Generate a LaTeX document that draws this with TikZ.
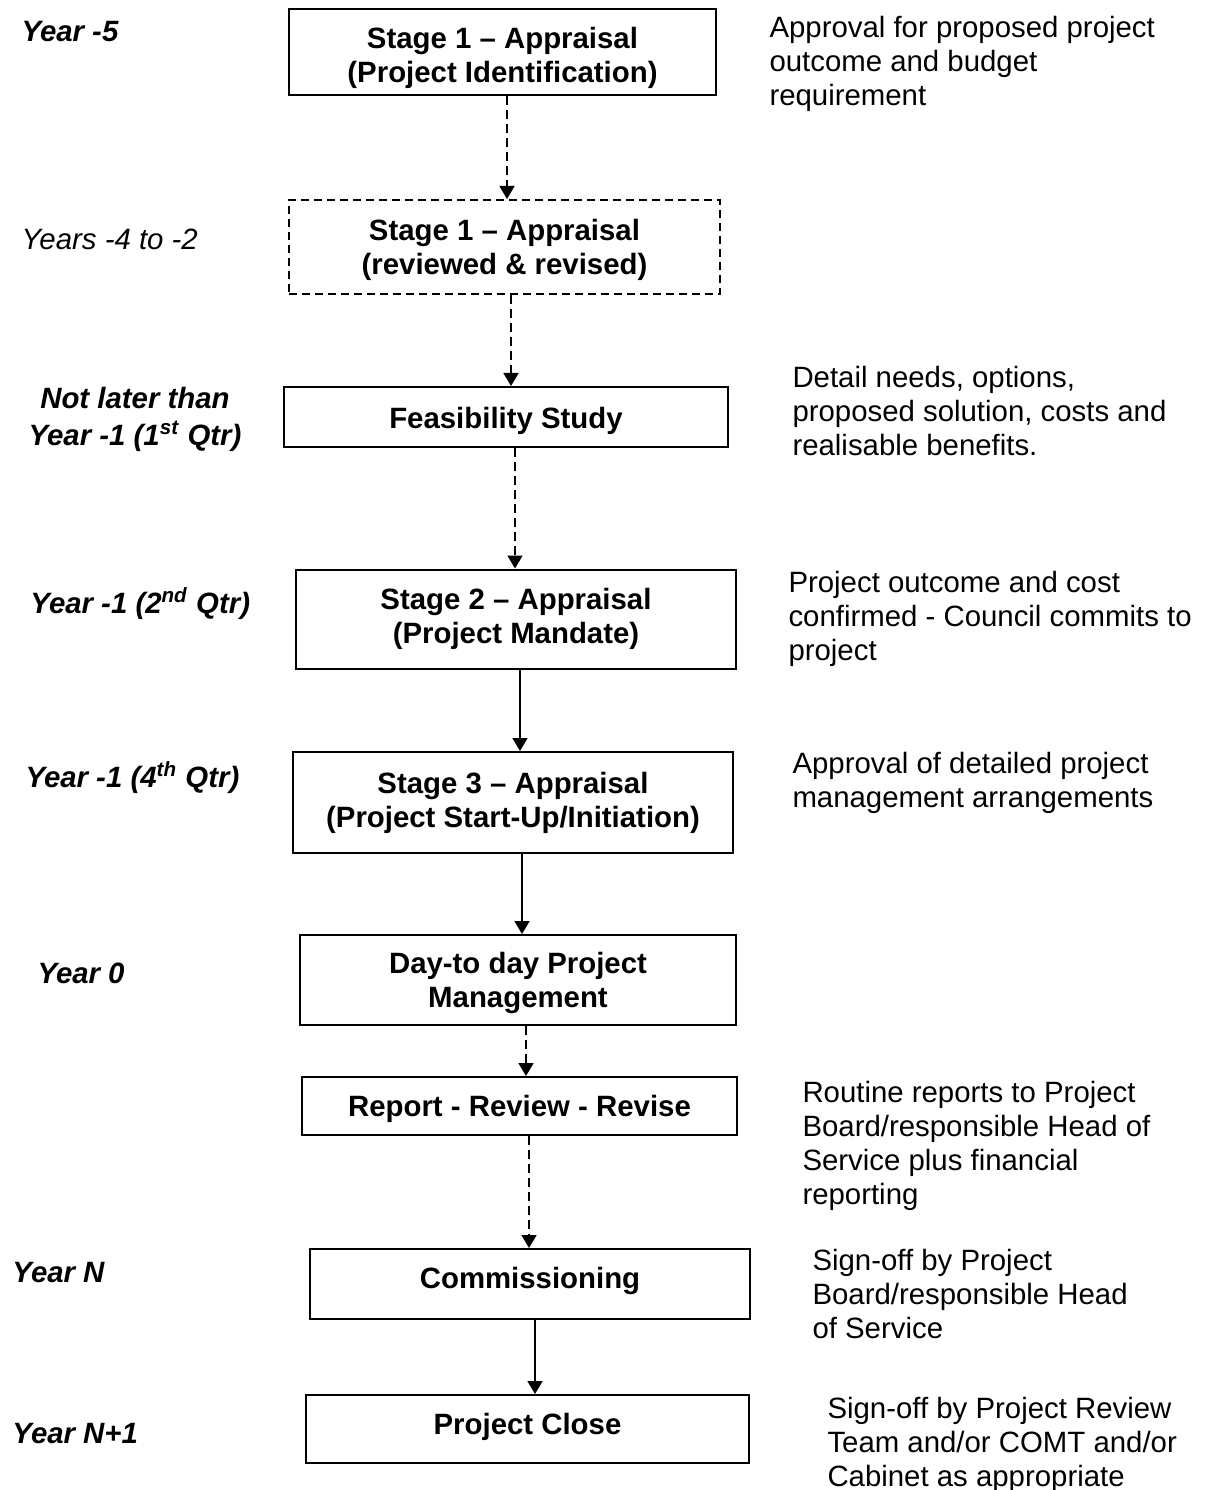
\documentclass[tikz,border=0pt]{standalone}
\usepackage{fontspec}
\setmainfont{Liberation Sans}
\usetikzlibrary{arrows.meta}
\newcommand\fsz{\fontsize{11.75}{13.6}\selectfont}
\newcommand\uprule[1]{\rule{0pt}{#1}}
\newcommand\dnrule[1]{\rule[-#1]{0pt}{#1}}
\begin{document}
\begin{tikzpicture}[x=0.4pt,y=-0.4pt,
  every node/.style={inner sep=0pt, font=\fsz},
  box/.style={draw, line width=0.8pt, align=center, font=\fsz\bfseries},
  dbox/.style={box, dash pattern=on 3.2pt off 2pt},
  conn/.style={line width=0.7pt, -{Triangle[length=5.2pt,width=6pt]}},
  dconn/.style={conn, dash pattern=on 3.6pt off 2pt},
  lab/.style={anchor=base west, font=\fsz\bfseries\itshape},
  note/.style={anchor=north west, align=left}]
\fill[white] (0,0) rectangle (1206,1490);
\useasboundingbox (0,0) rectangle (1206,1490);

% boxes
\node[box, minimum width=427*0.4pt, minimum height=86*0.4pt] (s1) at (502.5,52) {\uprule{13.2pt}Stage 1 – Appraisal\\(Project Identification)};
\node[dbox, minimum width=431*0.4pt, minimum height=94*0.4pt] (s1r) at (504.5,247) {\uprule{10.6pt}Stage 1 – Appraisal\\(reviewed \& revised)};
\node[box, minimum width=444*0.4pt, minimum height=60*0.4pt] (feas) at (506,417) {\uprule{12pt}Feasibility Study};
\node[box, minimum width=440*0.4pt, minimum height=99*0.4pt] (s2) at (516,619) {Stage 2 – Appraisal\\(Project Mandate)};
\node[box, minimum width=440*0.4pt, minimum height=101*0.4pt] (s3) at (513,802.5) {Stage 3 – Appraisal\\(Project Start-Up/Initiation)};
\node[box, minimum width=436*0.4pt, minimum height=90*0.4pt] (day) at (518,980) {\uprule{11.2pt}Day-to day Project\\Management};
\node[box, minimum width=435*0.4pt, minimum height=58*0.4pt] (rep) at (519.5,1106) {\uprule{11.2pt}Report - Review - Revise};
\node[box, minimum width=440*0.4pt, minimum height=70*0.4pt] (com) at (530,1284) {Commissioning\dnrule{5pt}};
\node[box, minimum width=443*0.4pt, minimum height=68*0.4pt] (close) at (527.5,1429) {Project Close\dnrule{4.2pt}};

% connector x positions
\coordinate (x1) at (507,0);
\coordinate (x2) at (511,0);
\coordinate (x3) at (515,0);
\coordinate (x4) at (520,0);
\coordinate (x5) at (522,0);
\coordinate (x6) at (526,0);
\coordinate (x7) at (529,0);
\coordinate (x8) at (535,0);

\draw[dconn] (s1.south -| x1) -- (s1r.north -| x1);
\draw[dconn] (s1r.south -| x2) -- (feas.north -| x2);
\draw[dconn] (feas.south -| x3) -- (s2.north -| x3);
\draw[conn] (s2.south -| x4) -- (s3.north -| x4);
\draw[conn] (s3.south -| x5) -- (day.north -| x5);
\draw[dconn] (day.south -| x6) -- (rep.north -| x6);
\draw[dconn] (rep.south -| x7) -- (com.north -| x7);
\draw[conn] (com.south -| x8) -- (close.north -| x8);

% left labels
\node[lab] (l1) at (21,42) {Year -5};
\node[lab, font=\fsz\itshape] (l2) at (21,250) {Years -4 to -2};
\node[anchor=north, align=center, font=\fsz\bfseries\itshape] (l3) at (135,384.2) {\strut Not later than\\Year -1 (1\textsuperscript{st} Qtr)};
\node[lab] (l4) at (30,613) {Year -1 (2\textsuperscript{nd} Qtr)};
\node[lab] (l5) at (25,787) {Year -1 (4\textsuperscript{th} Qtr)};
\node[lab] (l6) at (37,983) {Year 0};
\node[lab] (l7) at (12,1282) {Year N};
\node[lab] (l8) at (12,1443) {Year N+1};

% right notes
\node[note] (r1) at (769,13.2) {\strut Approval for proposed project\\outcome and budget\\requirement};
\node[note] (r2) at (792,363.2) {\strut Detail needs, options,\\proposed solution, costs and\\realisable benefits.};
\node[note] (r3) at (788,568.2) {\strut Project outcome and cost\\confirmed - Council commits to\\project};
\node[note] (r4) at (792,749.2) {\strut Approval of detailed project\\management arrangements};
\node[note] (r5) at (802,1078.2) {\strut Routine reports to Project\\Board/responsible Head of\\Service plus financial\\reporting};
\node[note] (r6) at (812,1246.2) {\strut Sign-off by Project\\Board/responsible Head\\of Service};
\node[note] (r7) at (827,1394.2) {\strut Sign-off by Project Review\\Team and/or COMT and/or\\Cabinet as appropriate};
\end{tikzpicture}
\end{document}
